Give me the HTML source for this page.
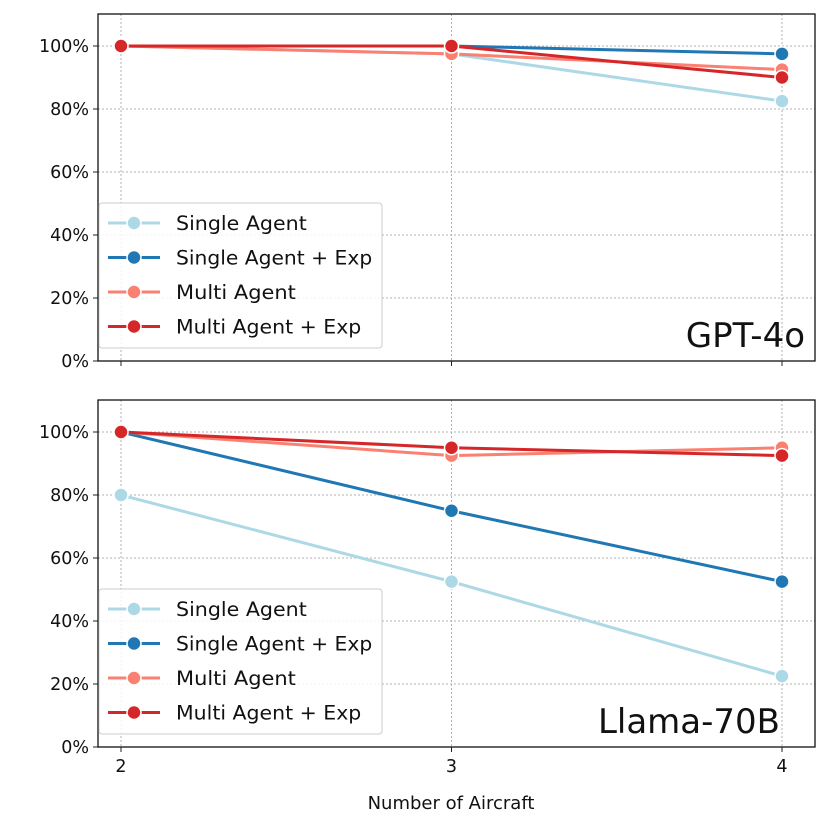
<!DOCTYPE html>
<html><head><meta charset="utf-8"><style>
body{margin:0;background:#fff;}
svg text{font-family:"DejaVu Sans","Liberation Sans",sans-serif;fill:#111;}
</style></head><body>
<svg id="chart" width="830" height="829" xmlns="http://www.w3.org/2000/svg"></svg>
<script>
const categories=[2,3,4];
const seriesNames=["Single Agent","Single Agent + Exp","Multi Agent","Multi Agent + Exp"];
const colors=["#add8e6","#1f77b4","#fa8072","#d62728"];
const gptSingle=[100,97.5,82.5];
const gptSingleExp=[100,100,97.5];
const gptMulti=[100,97.5,92.5];
const gptMultiExp=[100,100,90];
const llamaSingle=[80,52.5,22.5];
const llamaSingleExp=[100,75,52.5];
const llamaMulti=[100,92.5,95];
const llamaMultiExp=[100,95,92.5];
const yTicks=[0,20,40,60,80,100];
const yTickLabels=["0%","20%","40%","60%","80%","100%"];

const NS="http://www.w3.org/2000/svg";
const svg=document.getElementById('chart');
function mk(t,a,p){const e=document.createElementNS(NS,t);for(const k in a)e.setAttribute(k,a[k]);(p||svg).appendChild(e);return e;}
const X0=98,X1=815;
function xs(v){return 121+(v-2)*330.5;}
function panel(top,title,titleEnd,data,showX){
  const bottom=top+347;
  const g=mk('g',{});
  
  
  const ys=v=>bottom-v*3.15;
  yTicks.forEach((t,i)=>{
    const gl=mk('line',{x1:X0,x2:X1,y1:ys(t),y2:ys(t),stroke:'#b0b0b0','stroke-dasharray':'2,2','stroke-width':1},g);
    
    mk('line',{x1:X0-5,x2:X0,y1:ys(t),y2:ys(t),stroke:'#222'},g);
    const tx=mk('text',{x:X0-9,y:ys(t)+6,'text-anchor':'end','font-size':17.5},g);
    tx.textContent=yTickLabels[i];
    
  });
  categories.forEach(c=>{
    mk('line',{x1:xs(c),x2:xs(c),y1:top,y2:bottom,stroke:'#b0b0b0','stroke-dasharray':'2,2'},g);
    mk('line',{x1:xs(c),x2:xs(c),y1:bottom,y2:bottom+5,stroke:'#222'},g);
    if(showX){const tx=mk('text',{x:xs(c),y:bottom+25,'text-anchor':'middle','font-size':17.5},g);tx.textContent=c;
      }
  });
  data.forEach((d,si)=>{
    const pl=mk('polyline',{points:d.map((v,i)=>xs(categories[i])+','+ys(v)).join(' '),fill:'none',stroke:colors[si],'stroke-width':3},g);
    
    d.forEach((v,i)=>{const c=mk('circle',{cx:xs(categories[i]),cy:ys(v),r:7,fill:colors[si],stroke:'#fff','stroke-width':1.5},g);
      });
  });
  const fr=mk('rect',{x:X0,y:top,width:X1-X0,height:347,fill:'none',stroke:'#111','stroke-width':1.3},g);
  
  const lg=mk('g',{},g);
  
  const ly=bottom-158;
  mk('rect',{x:X0+1,y:ly,width:283,height:145,fill:'#fff','fill-opacity':0.85,stroke:'#ccc',rx:3},lg);
  seriesNames.forEach((n,i)=>{
    const yy=ly+20+i*34.5;
    mk('line',{x1:108,x2:160,y1:yy,y2:yy,stroke:colors[i],'stroke-width':3},lg);
    mk('circle',{cx:134,cy:yy,r:7,fill:colors[i],stroke:'#fff','stroke-width':1.5},lg);
    const t=mk('text',{x:176,y:yy+7,'font-size':19.5,textLength:n.length*10.9,lengthAdjust:'spacingAndGlyphs'},lg);t.textContent=n;
    
  });
  const tt=mk('text',{x:titleEnd,y:bottom-14,'text-anchor':'end','font-size':34},g);tt.textContent=title;
  
}
panel(14,'GPT-4o',805,[gptSingle,gptSingleExp,gptMulti,gptMultiExp],false);
panel(400,'Llama-70B',780,[llamaSingle,llamaSingleExp,llamaMulti,llamaMultiExp],true);
const xl=mk('text',{x:451,y:809,'text-anchor':'middle','font-size':18});xl.textContent='Number of Aircraft';

</script>
</body></html>
